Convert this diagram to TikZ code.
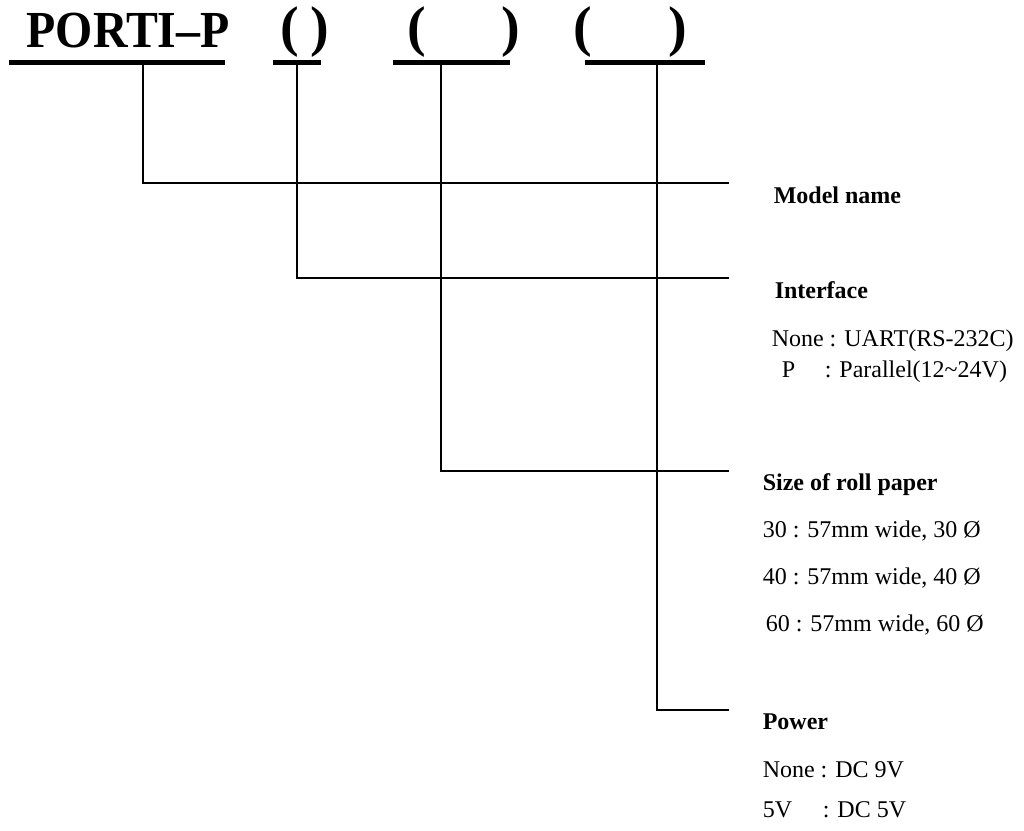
\documentclass[tikz,border=0pt]{standalone}
\usepackage{fontspec}
\setmainfont{Liberation Serif}
\usetikzlibrary{positioning}

\begin{document}
\begin{tikzpicture}[x=1pt,y=-1pt,line width=1.5pt]
\tikzstyle{big}=[inner sep=0pt,anchor=base west,font=\fontsize{52}{56}\selectfont\bfseries]
\tikzstyle{paren}=[inner sep=0pt,anchor=base west,font=\fontsize{56}{60}\selectfont\bfseries]
\tikzstyle{head}=[inner sep=0pt,anchor=base west,font=\fontsize{24}{28}\selectfont\bfseries]
\tikzstyle{item}=[inner sep=0pt,anchor=base west,font=\fontsize{24}{28}\selectfont]
\tikzstyle{bar}=[line width=5pt]
\useasboundingbox (0,0) rectangle (1024,830);
% code parts
\node[big] (model) at (26,47) {\scalebox{0.92}[1]{PORTI–P}};
\node[paren] (o2) at (280,45) {(}; \node[paren] (c2) at (310,45) {)};
\node[paren] (o3) at (407,45) {(}; \node[paren] (c3) at (501,45) {)};
\node[paren] (o4) at (573,45) {(}; \node[paren] (c4) at (668,45) {)};
\draw[bar] (9,62.5) -- (225,62.5); \draw[bar] (273,62.5) -- (321,62.5);
\draw[bar] (393,62.5) -- (510,62.5); \draw[bar] (585,62.5) -- (705,62.5);
% leaders
\coordinate (t1) at (143,65); \coordinate (e1) at (729,183);
\coordinate (t2) at (297,65); \coordinate (e2) at (729,278);
\coordinate (t3) at (441,65); \coordinate (e3) at (729,471);
\coordinate (t4) at (657,65); \coordinate (e4) at (729,710);
\draw (t1) |- (e1); \draw (t2) |- (e2); \draw (t3) |- (e3); \draw (t4) |- (e4);
% labels
\node[head] (name) at (773,203) {Model name};
\node[head] (iface) at (774,298) {Interface};
\node[item] (if1) at (771,346) {None : UART(RS-232C)};
\node[item] (if2) at (781,377) {P}; \node[item] (if2b) at (824,377) {: Parallel(12\textasciitilde 24V)};
\node[head] (roll) at (762,490) {Size of roll paper};
\node[item] (r30) at (762,537) {30 : 57mm wide, 30 Ø};
\node[item] (r40) at (762,584) {40 : 57mm wide, 40 Ø};
\node[item] (r60) at (765,631) {60 : 57mm wide, 60 Ø};
\node[head] (pwr) at (762,729) {Power};
\node[item] (p9) at (762,777) {None : DC 9V};
\node[item] (p5) at (762,817) {5V}; \node[item] (p5b) at (822,817) {: DC 5V};
\end{tikzpicture}
\end{document}
